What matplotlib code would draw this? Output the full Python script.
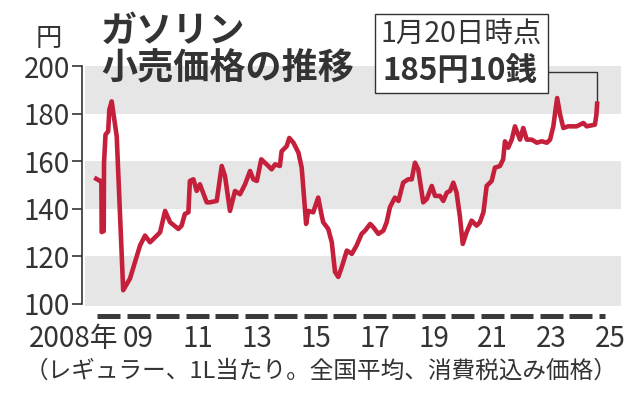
import matplotlib
matplotlib.use("Agg")
import matplotlib.pyplot as plt
from matplotlib.patches import Rectangle

plt.rcParams['font.family'] = ['Noto Sans CJK JP', 'DejaVu Sans']

# ---- data (decimal year, yen per litre) ----
years = [2008.00, 2008.19, 2008.24, 2008.25, 2008.32, 2008.33, 2008.38, 2008.47, 2008.51, 2008.59,
         2008.76, 2008.98, 2009.21, 2009.55, 2009.72, 2009.89, 2010.12, 2010.23, 2010.40, 2010.57,
         2010.85, 2010.96, 2011.07, 2011.19, 2011.24, 2011.36, 2011.47, 2011.58, 2011.81, 2011.92,
         2012.15, 2012.32, 2012.43, 2012.60, 2012.77, 2012.94, 2013.11, 2013.28, 2013.39, 2013.51,
         2013.66, 2013.90, 2014.01, 2014.13, 2014.29, 2014.35, 2014.52, 2014.61, 2014.75, 2014.92,
         2015.03, 2015.08, 2015.18, 2015.25, 2015.42, 2015.59, 2015.71, 2015.76, 2015.93, 2016.05,
         2016.16, 2016.27, 2016.39, 2016.56, 2016.73, 2016.89, 2017.06, 2017.18, 2017.35, 2017.46,
         2017.63, 2017.80, 2017.91, 2018.02, 2018.19, 2018.31, 2018.47, 2018.64, 2018.76, 2018.87,
         2018.98, 2019.15, 2019.27, 2019.44, 2019.55, 2019.72, 2019.83, 2019.95, 2020.06, 2020.17,
         2020.28, 2020.39, 2020.49, 2020.62, 2020.79, 2020.96, 2021.07, 2021.19, 2021.30, 2021.47,
         2021.58, 2021.75, 2021.86, 2021.92, 2022.03, 2022.15, 2022.26, 2022.43, 2022.54, 2022.66,
         2022.83, 2023.00, 2023.17, 2023.34, 2023.45, 2023.56, 2023.62, 2023.69, 2023.79, 2023.90,
         2024.06, 2024.35, 2024.58, 2024.69, 2024.97, 2025.02, 2025.05]
prices = [153.0, 151.6, 151.6, 130.1, 130.5, 159.3, 171.1, 172.5, 181.6, 185.1,
          170.4, 105.6, 110.5, 124.4, 128.6, 125.8, 128.6, 130.0, 139.0, 134.2,
          131.4, 132.8, 137.7, 138.4, 151.6, 152.3, 147.4, 150.2, 142.6, 142.6,
          143.2, 157.9, 153.7, 139.0, 147.4, 146.0, 150.2, 155.8, 152.3, 151.6,
          160.7, 157.9, 156.5, 158.6, 157.9, 164.1, 166.2, 169.7, 167.7, 163.5,
          157.2, 149.5, 133.5, 139.0, 138.4, 144.6, 136.9, 134.2, 131.4, 125.8,
          113.3, 111.2, 115.4, 122.3, 120.9, 124.4, 129.3, 130.7, 133.5, 132.1,
          129.3, 130.7, 134.2, 140.5, 144.6, 143.2, 150.9, 152.3, 152.3, 159.3,
          156.5, 142.6, 144.0, 149.5, 145.3, 145.3, 143.2, 146.7, 147.4, 150.9,
          146.7, 136.9, 125.1, 130.0, 134.9, 132.8, 134.2, 138.4, 149.5, 151.6,
          157.2, 157.9, 160.7, 168.3, 165.6, 169.0, 174.6, 169.0, 173.9, 169.0,
          169.0, 167.7, 168.3, 167.7, 169.0, 174.6, 180.2, 186.5, 179.5, 173.9,
          174.6, 174.6, 176.0, 174.6, 175.3, 179.5, 185.1]

year_marks = list(range(2008, 2026))
xtick_years = [2008, 2009, 2011, 2013, 2015, 2017, 2019, 2021, 2023, 2025]
xtick_labels = ["2008年", "09", "11", "13", "15", "17", "19", "21", "23", "25"]
yticks = [100, 120, 140, 160, 180, 200]
bands = [(99, 120), (140, 160), (180, 200)]

title_lines = ["ガソリン", "小売価格の推移"]
unit_label = "円"
note_date = "1月20日時点"
note_value = "185円10銭"
caption = "（レギュラー、1L当たり。全国平均、消費税込み価格）"

TXT = '#333333'
RED = '#C5203B'
GRAY = '#E6E6E6'

W, H = 640, 396
def fx(x):
    return x / W
def fy(y):
    return 1 - y / H

fig = plt.figure(figsize=(6.4, 3.96), dpi=100)
ax = fig.add_axes([fx(85), fy(305.9), (621 - 85) / W, (305.9 - 66) / H])
ax.set_xlim(2007.685, 2025.854)
ax.set_ylim(99, 200)

for lo, hi in bands:
    ax.axhspan(lo, hi, color=GRAY, lw=0, zorder=0)

ax.plot(years, prices, color=RED, lw=3.3, solid_joinstyle='round',
        solid_capstyle='butt', zorder=3)

# year dashes below the plot
xt = ax.get_xaxis_transform()
for yr in year_marks:
    end = yr + 0.88 if yr < 2025 else yr + 0.3
    ax.plot([yr + 0.1, end], [-0.041, -0.041], transform=xt, color='#3a3a3a',
            lw=3.6, solid_capstyle='butt', clip_on=False)

for s in ['top', 'right', 'bottom']:
    ax.spines[s].set_visible(False)
ax.spines['left'].set_position(('outward', 2.4))
ax.spines['left'].set_bounds(100, 200)
ax.spines['left'].set_color(TXT)
ax.spines['left'].set_linewidth(1.2)

ax.set_yticks(yticks)
ax.set_yticklabels([str(v) for v in yticks])
ax.tick_params(axis='y', length=7, width=1.2, color=TXT, labelsize=20,
               labelcolor=TXT, pad=1.5)

xpos = [y + 0.8 if i == 0 else y + 0.5 for i, y in enumerate(xtick_years)]
ax.set_xticks(xpos)
ax.set_xticklabels(xtick_labels)
ax.tick_params(axis='x', length=0, labelsize=20, labelcolor=TXT, pad=13)
ax.get_xticklabels()[0].set_ha('right')

# titles
fig.text(fx(101), fy(31), title_lines[0], fontsize=26, weight='bold',
         color=TXT, ha='left', va='center')
fig.text(fx(101), fy(69), title_lines[1], fontsize=26, weight='bold',
         color=TXT, ha='left', va='center')
fig.text(fx(48.5), fy(38), unit_label, fontsize=19, color=TXT,
         ha='center', va='center')

# annotation box
fig.patches.append(Rectangle((fx(375), fy(93)), (548 - 375) / W, (93 - 14) / H,
                             transform=fig.transFigure, facecolor='white',
                             edgecolor=TXT, lw=1.0, zorder=5))
fig.text(fx(461), fy(35), note_date, fontsize=20.5, color=TXT,
         ha='center', va='center', zorder=6)
fig.text(fx(460), fy(71), note_value, fontsize=22.5, weight='bold', color=TXT,
         ha='center', va='center', zorder=6)
ax.annotate('', xy=(years[-1], prices[-1]), xycoords='data',
            xytext=(fx(548), fy(72)), textcoords='figure fraction',
            arrowprops=dict(arrowstyle='-', color=TXT, lw=1.0,
                            connectionstyle='angle,angleA=0,angleB=90,rad=0',
                            shrinkA=0, shrinkB=0), annotation_clip=False, zorder=2)

fig.text(fx(321), fy(371), caption, fontsize=17, color=TXT,
         ha='center', va='center')

fig.savefig('out.png', dpi=100)
